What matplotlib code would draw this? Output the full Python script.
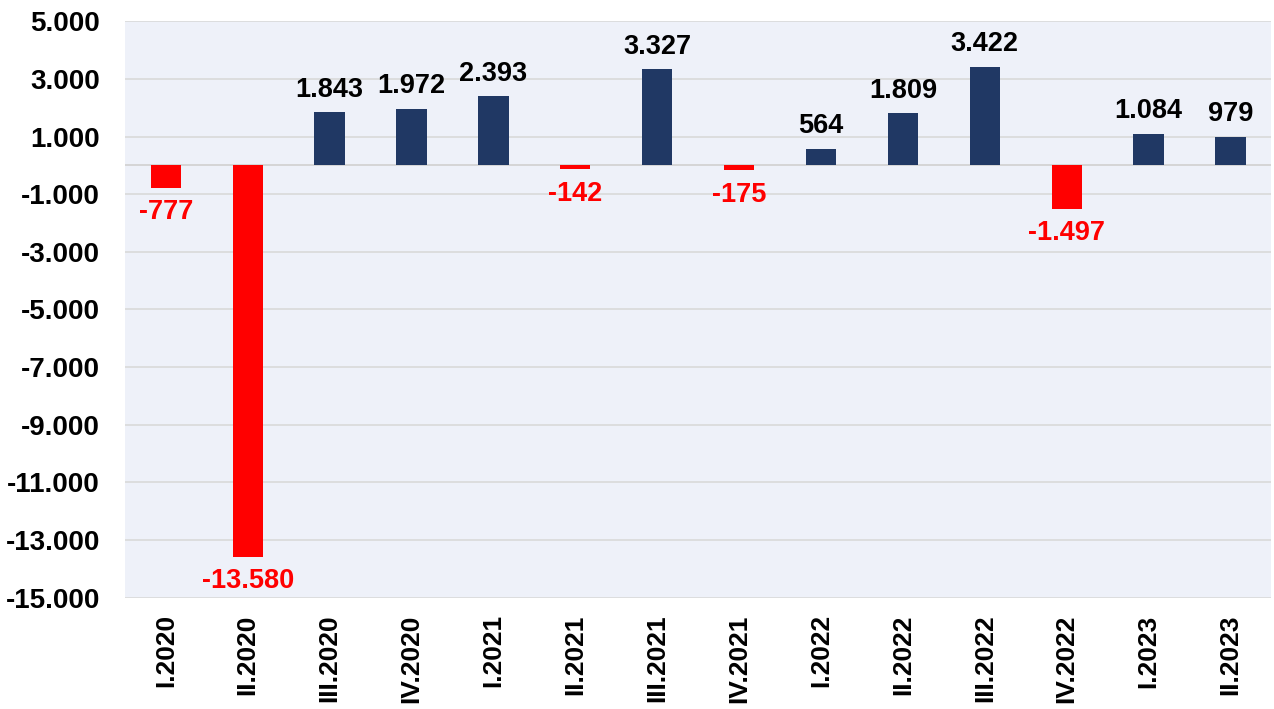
import numpy as np
import matplotlib
matplotlib.use("Agg")
import matplotlib.pyplot as plt
from matplotlib.ticker import FuncFormatter

QUARTERS = ["I.2020", "II.2020", "III.2020", "IV.2020",
            "I.2021", "II.2021", "III.2021", "IV.2021",
            "I.2022", "II.2022", "III.2022", "IV.2022",
            "I.2023", "II.2023"]
VALUES = [-777, -13580, 1843, 1972, 2393, -142, 3327, -175,
          564, 1809, 3422, -1497, 1084, 979]
Y_TICKS = list(range(5000, -15001, -2000))

NAVY = "#203864"
RED = "#FF0000"


def fmt(v):
    s = f"{abs(int(v)):,}".replace(",", ".")
    return "-" + s if v < 0 else s


plt.rcParams["font.family"] = ["Liberation Sans", "DejaVu Sans"]
plt.rcParams["font.weight"] = "bold"

fig = plt.figure(figsize=(12.74, 7.09), dpi=100)
ax = fig.add_axes([0.098, 0.157, 0.900, 0.813])
ax.set_facecolor("#EEF1F9")

x = np.arange(len(QUARTERS))
colors = [RED if v < 0 else NAVY for v in VALUES]
ax.bar(x, VALUES, width=0.37, color=colors, zorder=3)

for xi, v in zip(x, VALUES):
    if v < 0:
        ax.annotate(fmt(v), (xi, v), xytext=(0, -8), textcoords="offset points",
                    ha="center", va="top", color=RED, fontsize=19.5,
                    fontweight="bold")
    else:
        ax.annotate(fmt(v), (xi, v), xytext=(0, 7), textcoords="offset points",
                    ha="center", va="bottom", color="black", fontsize=19.5,
                    fontweight="bold")

ax.set_ylim(-15000, 5000)
ax.set_xlim(-0.5, len(QUARTERS) - 0.5)
ax.set_yticks(Y_TICKS)
ax.yaxis.set_major_formatter(FuncFormatter(lambda v, p: fmt(v)))
ax.set_xticks(x)
ax.set_xticklabels(QUARTERS, rotation=90)
ax.tick_params(axis="y", length=0, labelsize=20, pad=18)
ax.tick_params(axis="x", length=0, labelsize=19, pad=12)
for lab in ax.get_xticklabels() + ax.get_yticklabels():
    lab.set_fontweight("bold")

ax.grid(axis="y", color="#D9D9D9", linewidth=1.2, zorder=0)
ax.axhline(0, color="#D0D0D0", linewidth=1.2, zorder=1)
for s in ax.spines.values():
    s.set_visible(False)

fig.savefig("out.png", dpi=100)
